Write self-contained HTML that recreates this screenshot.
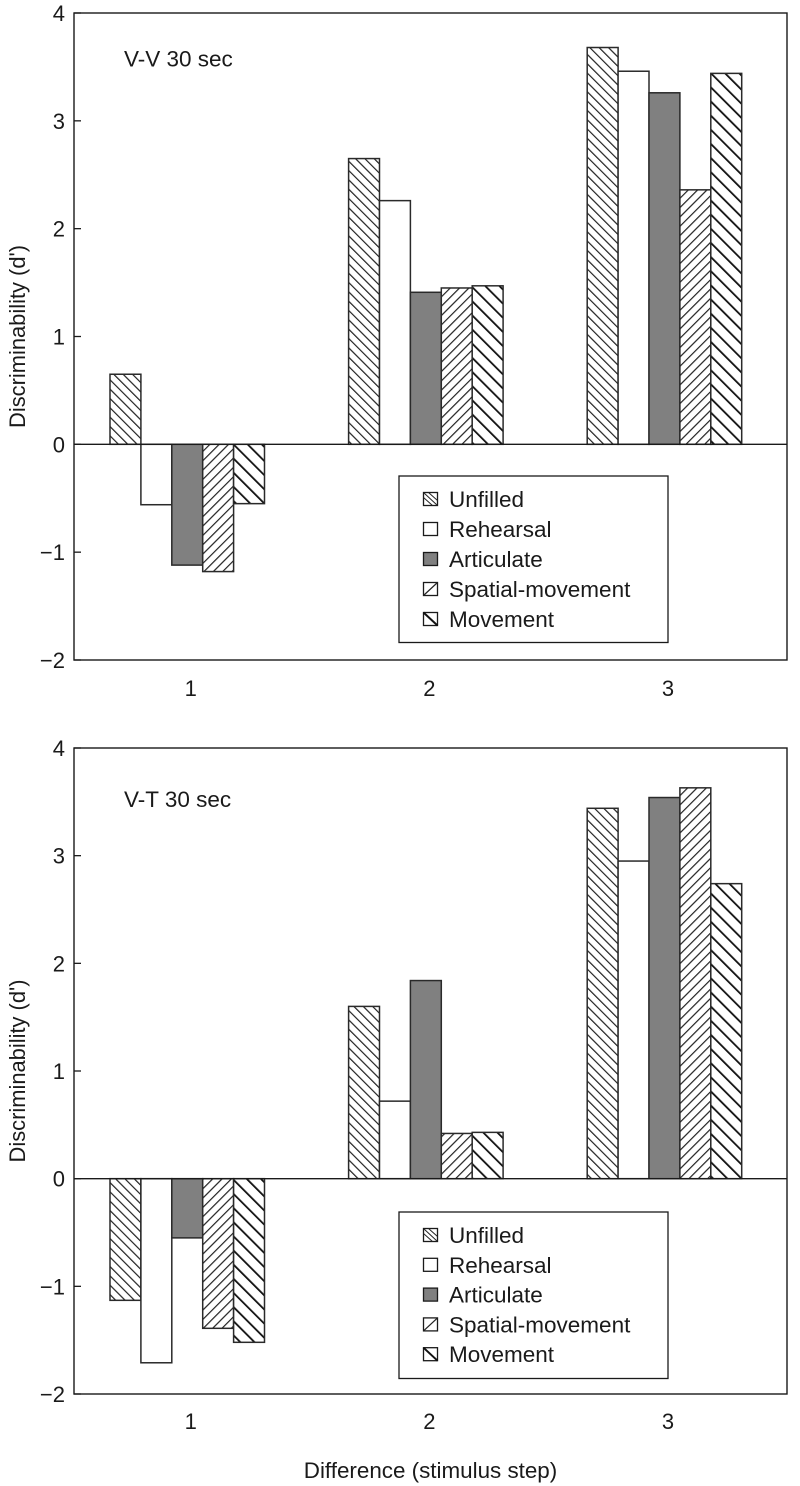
<!DOCTYPE html>
<html>
<head>
<meta charset="utf-8">
<style>
html,body{margin:0;padding:0;background:#fff;width:800px;height:1486px;overflow:hidden}
svg{display:block}
text{font-family:"Liberation Sans",Arial,sans-serif;fill:#1a1a1a}
</style>
</head>
<body>
<svg id="chart" xmlns="http://www.w3.org/2000/svg" width="800" height="1486" viewBox="0 0 800 1486">
<defs>
<pattern id="p-unfilled" patternUnits="userSpaceOnUse" width="6.6" height="6.6" patternTransform="rotate(-45)"><rect width="6.6" height="6.6" fill="#fff"/><rect width="1.2" height="6.6" fill="#222"/></pattern>
<pattern id="p-spatial" patternUnits="userSpaceOnUse" width="6.6" height="6.6" patternTransform="rotate(45)"><rect width="6.6" height="6.6" fill="#fff"/><rect width="1.2" height="6.6" fill="#222"/></pattern>
<pattern id="p-movement" patternUnits="userSpaceOnUse" width="10" height="10" patternTransform="rotate(-45)"><rect width="10" height="10" fill="#fff"/><rect width="1.8" height="10" fill="#111"/></pattern>
</defs>
</svg>
<script>
const categories = ['1', '2', '3'];
const seriesNames = ['Unfilled', 'Rehearsal', 'Articulate', 'Spatial-movement', 'Movement'];
const yTicks = [-2, -1, 0, 1, 2, 3, 4];
const vvUnfilled = [0.65, 2.65, 3.68];
const vvRehearsal = [-0.56, 2.26, 3.46];
const vvArticulate = [-1.12, 1.41, 3.26];
const vvSpatial = [-1.18, 1.45, 2.36];
const vvMovement = [-0.55, 1.47, 3.44];
const vtUnfilled = [-1.13, 1.6, 3.44];
const vtRehearsal = [-1.71, 0.72, 2.95];
const vtArticulate = [-0.55, 1.84, 3.54];
const vtSpatial = [-1.39, 0.42, 3.63];
const vtMovement = [-1.52, 0.43, 2.74];

const fills = ['url(#p-unfilled)', '#fff', '#808080', 'url(#p-spatial)', 'url(#p-movement)'];
const svg = document.getElementById('chart');
const NS = 'http://www.w3.org/2000/svg';

function el(tag, attrs, parent) {
  const e = document.createElementNS(NS, tag);
  for (const k in attrs) e.setAttribute(k, attrs[k]);
  (parent || svg).appendChild(e);
  return e;
}
function slug(s) { return s.toLowerCase().replace(/[^a-z0-9]+/g, '-'); }

function label(str, x, y, size, anchor, parent) {
  const t = el('text', { x: x, y: y, 'font-size': size, 'text-anchor': anchor }, parent);
  t.textContent = str;
  return t;
}

function swatch(s, x, y, w, h, parent) {
  const plain = s === 1 || s === 2;
  el('rect', { x: x, y: y, width: w, height: h, fill: plain ? fills[s] : '#fff', stroke: '#1a1a1a', 'stroke-width': 1.3 }, parent);
  if (s === 0) {
    el('line', { x1: x, y1: y, x2: x + w, y2: y + h, stroke: '#222', 'stroke-width': 1 }, parent);
    el('line', { x1: x + 5, y1: y, x2: x + w, y2: y + h - 5, stroke: '#222', 'stroke-width': 1 }, parent);
    el('line', { x1: x, y1: y + 5, x2: x + w - 5, y2: y + h, stroke: '#222', 'stroke-width': 1 }, parent);
  } else if (s === 3) {
    el('line', { x1: x, y1: y + h, x2: x + w, y2: y, stroke: '#222', 'stroke-width': 1.2 }, parent);
  } else if (s === 4) {
    el('line', { x1: x, y1: y, x2: x + w, y2: y + h, stroke: '#111', 'stroke-width': 2 }, parent);
  }
}

function drawPanel(key, title, top, bottom, series, titleY, legendTop, legendStep, xLabelOffset) {
  const g = el('g', {});
  
  
  const left = 74, right = 787;
  const yScale = v => top + (4 - v) * (bottom - top) / 6;
  const groupX = i => 110 + i * 238.6;
  const barW = 30.9;

  series.forEach((vals, s) => {
    vals.forEach((v, c) => {
      const x = groupX(c) + s * barW;
      const y0 = yScale(0), y1 = yScale(v);
      const bar = el('rect', {
        x: x, y: Math.min(y0, y1), width: barW, height: Math.abs(y1 - y0),
        fill: fills[s], stroke: '#2a2a2a', 'stroke-width': 1.5
      }, g);
      
      
    });
  });

  const zero = el('line', { x1: left, x2: right, y1: yScale(0), y2: yScale(0), stroke: '#1a1a1a', 'stroke-width': 1.3 }, g);
  
  

  const frame = el('rect', { x: left, y: top, width: right - left, height: bottom - top, fill: 'none', stroke: '#1a1a1a', 'stroke-width': 1.4 }, g);
  
  

  yTicks.forEach(v => {
    const y = yScale(v);
    const tick = el('line', { x1: left, x2: left + 7, y1: y, y2: y, stroke: '#1a1a1a', 'stroke-width': 1.3 }, g);
    
    
    const tl = label(v < 0 ? '\u2212' + Math.abs(v) : String(v), 65, y + 8, 22, 'end', g);
    
    
  });

  categories.forEach((c, i) => {
    const xl = label(c, groupX(i) + 2.5 * barW + 3.5, bottom + xLabelOffset, 22, 'middle', g);
    
    
  });

  const yt = label("Discriminability (d')", 0, 0, 21.9, 'middle', g);
  yt.setAttribute('transform', 'translate(25,' + ((top + bottom) / 2) + ') rotate(-90)');
  
  

  const tt = label(title, 124, titleY, 22.5, 'start', g);
  
  

  const lg = el('g', {}, g);
  
  
  el('rect', { x: 399, y: legendTop, width: 269, height: 166.5, fill: '#fff', stroke: '#1a1a1a', 'stroke-width': 1.3 }, lg);
  seriesNames.forEach((name, s) => {
    const cy = legendTop + 24 + s * legendStep;
    const sw = el('g', {}, lg);
    
    
    swatch(s, 423.5, cy - 7.5, 14, 13, sw);
    const lt = label(name, 449, cy + 7, 22.5, 'start', lg);
    
    
  });
}

drawPanel('vv', 'V-V 30 sec', 13, 660, [vvUnfilled, vvRehearsal, vvArticulate, vvSpatial, vvMovement], 66.5, 476, 30, 36);
drawPanel('vt', 'V-T 30 sec', 748, 1394, [vtUnfilled, vtRehearsal, vtArticulate, vtSpatial, vtMovement], 807, 1212, 29.8, 35);

const xt = label('Difference (stimulus step)', 430.5, 1478, 22.4, 'middle');


</script>
</body>
</html>
